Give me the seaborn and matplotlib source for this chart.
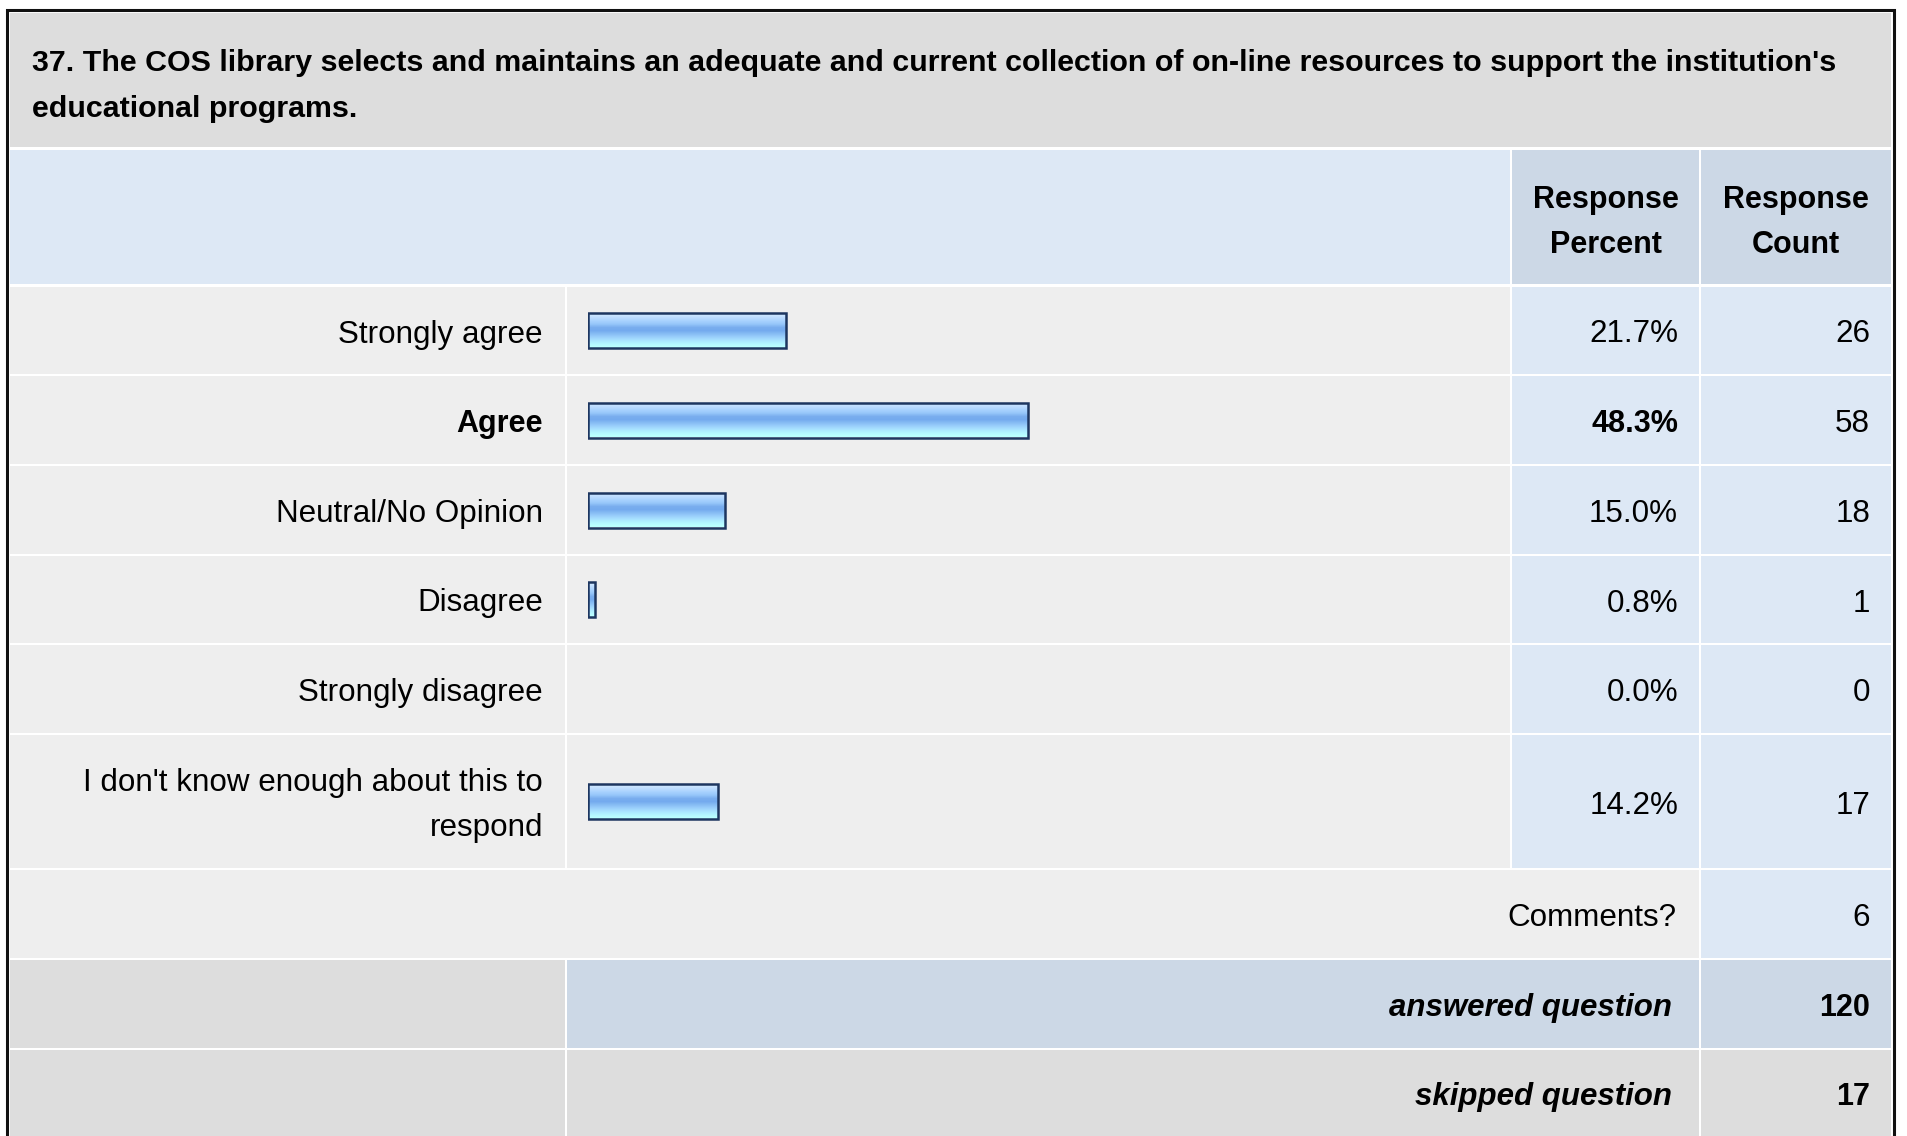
import numpy as np
import pandas as pd
import matplotlib
matplotlib.use("Agg")
import matplotlib.pyplot as plt
from matplotlib.patches import Rectangle
import seaborn as sns

# ---------------- data ----------------
title_lines = ["37. The COS library selects and maintains an adequate and current collection of on-line resources to support the institution's",
               "educational programs."]
categories = ["Strongly agree", "Agree", "Neutral/No Opinion", "Disagree",
              "Strongly disagree", "I don't know enough about this to\nrespond"]
percents = [21.7, 48.3, 15.0, 0.8, 0.0, 14.2]
counts = [26, 58, 18, 1, 0, 17]
header_percent = ["Response", "Percent"]
header_count = ["Response", "Count"]
comments_label = "Comments?"
comments_count = 6
answered_label = "answered question"
answered_count = 120
skipped_label = "skipped question"
skipped_count = 17

# ---------------- style ----------------
sns.set_style("white")
plt.rcParams["font.family"] = ["Liberation Sans", "DejaVu Sans"]
FS = 22.6        # regular text
FS_TITLE = 21.85  # bold title
FS_HEAD = 22.0   # bold header
FS_FOOT = 22.5   # bold italic footer

W, H = 1907, 1136
fig = plt.figure(figsize=(W / 100, H / 100), dpi=100)
fig.patch.set_facecolor("white")
ax = fig.add_axes([0, 0, 1, 1])
ax.set_xlim(0, W)
ax.set_ylim(H, 0)
ax.axis("off")

GREY = "#dddddd"
LIGHT = "#eeeeee"
BLUE = "#dde8f5"
BLUE2 = "#ccd8e6"

def cell(x0, x1, y0, y1, color):
    ax.add_patch(Rectangle((x0, y0), x1 - x0, y1 - y0, facecolor=color,
                           edgecolor="none", zorder=1))

def txt(x, y, s, ha="right", weight="normal", style="normal", fs=FS):
    ax.text(x, y, s, ha=ha, va="baseline", fontsize=fs, fontweight=weight,
            fontstyle=style, color="#000000", zorder=3)

# column edges
cols = [10, 565, 567, 1510, 1512, 1699, 1701, 1891]
# row edges
row_edges = [286, 375, 465, 555, 644, 734, 869, 959, 1049, 1140]

# outer border
ax.add_patch(Rectangle((7, 10), 1887, 1140, facecolor="white",
                       edgecolor="#111111", linewidth=2.2, zorder=0))

# title
cell(10, 1891, 13, 147, GREY)
for i, line in enumerate(title_lines):
    txt(32, 71 + 46 * i, line, ha="left", weight="bold", fs=FS_TITLE)

# header
cell(10, 1510, 150, 284, BLUE)
cell(1512, 1699, 150, 284, BLUE2)
cell(1701, 1891, 150, 284, BLUE2)
for i, (a, b) in enumerate(zip(header_percent, header_count)):
    txt(1605.5, 208 + 45 * i, a, ha="center", weight="bold", fs=FS_HEAD)
    txt(1796, 208 + 45 * i, b, ha="center", weight="bold", fs=FS_HEAD)

# data rows
imax = int(np.argmax(percents))
centers = []
for i, (lab, p, c) in enumerate(zip(categories, percents, counts)):
    y0, y1 = row_edges[i] + 1, row_edges[i + 1] - 1
    yc = (row_edges[i] + row_edges[i + 1]) / 2
    centers.append(yc)
    cell(cols[0], cols[1], y0, y1, LIGHT)
    cell(cols[2], cols[3], y0, y1, LIGHT)
    cell(cols[4], cols[5], y0, y1, BLUE)
    cell(cols[6], cols[7], y0, y1, BLUE)
    w = "bold" if i == imax else "normal"
    fsz = FS_HEAD if i == imax else FS
    lines = lab.split("\n")
    n = len(lines)
    for k, ln in enumerate(lines):
        txt(543, yc + 12 + 45 * (k - (n - 1) / 2), ln, weight=w, fs=fsz)
    txt(1678, yc + 12, f"{p:.1f}%", weight=w, fs=fsz)
    txt(1870, yc + 12, f"{c}")

# comments row
y0, y1 = row_edges[6] + 1, row_edges[7] - 1
yc = (row_edges[6] + row_edges[7]) / 2
cell(cols[0], cols[5], y0, y1, LIGHT)
cell(cols[6], cols[7], y0, y1, BLUE)
txt(1676, yc + 12, comments_label)
txt(1870, yc + 12, f"{comments_count}")

# answered row
y0, y1 = row_edges[7] + 1, row_edges[8] - 1
yc = (row_edges[7] + row_edges[8]) / 2
cell(cols[0], cols[1], y0, y1, GREY)
cell(cols[2], cols[5], y0, y1, BLUE2)
cell(cols[6], cols[7], y0, y1, BLUE2)
txt(1672, yc + 12, answered_label, weight="bold", style="italic", fs=FS_FOOT)
txt(1870, yc + 12, f"{answered_count}", weight="bold", fs=FS_HEAD)

# skipped row
y0, y1 = row_edges[8] + 1, row_edges[9]
yc = (row_edges[8] + 1049 + 88) / 2
cell(cols[0], cols[1], y0, y1, GREY)
cell(cols[2], cols[5], y0, y1, GREY)
cell(cols[6], cols[7], y0, y1, GREY)
txt(1672, yc + 12, skipped_label, weight="bold", style="italic", fs=FS_FOOT)
txt(1870, yc + 12, f"{skipped_count}", weight="bold", fs=FS_HEAD)

# ---------------- bars ----------------
bx0, bx1 = 588, 1500
bax = fig.add_axes([bx0 / W, 0, (bx1 - bx0) / W, 1])
bax.set_zorder(5)
bax.patch.set_alpha(0)
df = pd.DataFrame({"pct": percents, "ypos": centers})
min_gap = np.min(np.diff(centers))
sns.barplot(data=df, x="pct", y="ypos", orient="h", native_scale=True,
            width=35 / min_gap, color="#8fc0f7", saturation=1,
            edgecolor="#1d3660", linewidth=1.8, errorbar=None, ax=bax)
bax.set_xlim(0, 100)
bax.set_ylim(H, 0)
bax.axis("off")

grad_cols = ["#d0e8ff", "#bcdcff", "#a8d2fe", "#96c6fa", "#7aaeee", "#74aaee",
             "#86bcf4", "#9acffb", "#a8e2ff", "#b2f4ff", "#baffff"]
grad = np.array([matplotlib.colors.to_rgb(c) for c in grad_cols])[:, None, :]
for patch in list(bax.patches):
    w = patch.get_width()
    if w <= 0:
        patch.set_visible(False)
        continue
    x, y, h = patch.get_x(), patch.get_y(), patch.get_height()
    im = bax.imshow(grad, extent=(x, x + w, y + h, y), origin="upper",
                    aspect="auto", interpolation="bilinear", zorder=1)
    im.set_clip_path(patch)
    patch.set_facecolor("none")
    patch.set_zorder(2)
bax.set_xlim(0, 100)
bax.set_ylim(H, 0)

fig.savefig("out.png", dpi=100, facecolor="white")
